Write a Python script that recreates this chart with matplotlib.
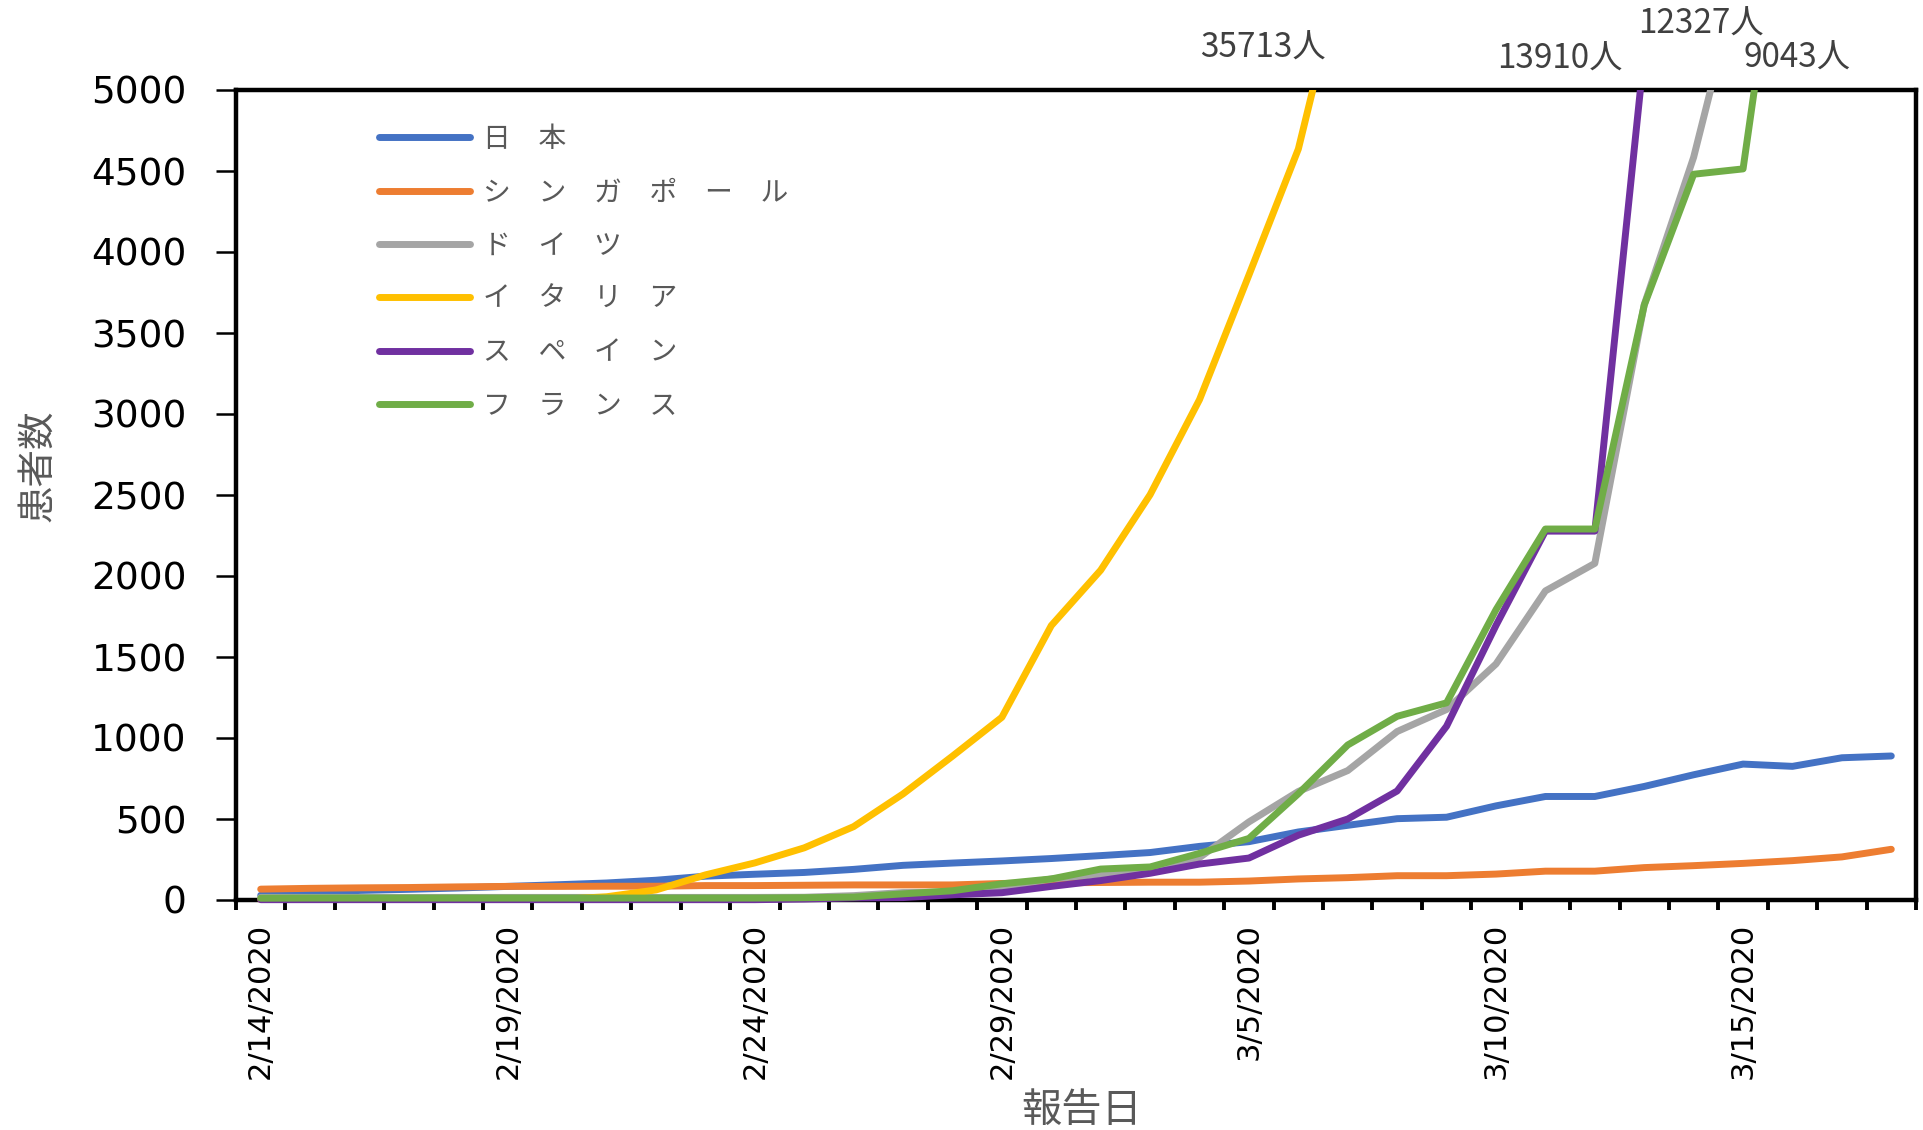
import matplotlib
matplotlib.use("Agg")
import matplotlib.pyplot as plt
from matplotlib.patches import Rectangle
import numpy as np
import pandas as pd

# Cumulative confirmed cases by report date
dates = pd.date_range("2020-02-14", "2020-03-18", freq="D")
date_labels = [f"{d.month}/{d.day}/{d.year}" for d in dates]

japan = [29, 43, 59, 66, 74, 84, 94,
         105, 122, 147, 159, 170, 189, 214, 228, 241,
         256, 274, 293, 331, 360, 420, 461, 502, 511, 581,
         639, 639, 701, 773, 839, 825, 878, 889]
singapore = [67, 72, 75, 77, 81, 84, 84,
             85, 85, 89, 89, 91, 93, 93, 93, 102,
             106, 108, 110, 110, 117, 130, 138, 150, 150, 160,
             178, 178, 200, 212, 226, 243, 266, 313]
germany = [16, 16, 16, 16, 16, 16, 16,
           16, 16, 16, 16, 17, 27, 46, 48, 79,
           130, 159, 196, 262, 482, 670, 799, 1040, 1176, 1457,
           1908, 2078, 3675, 4585, 5795, 7272, 9257, 12327]
italy = [3, 3, 3, 3, 3, 3, 3,
         20, 62, 155, 229, 322, 453, 655, 888, 1128,
         1694, 2036, 2502, 3089, 3858, 4636, 5883, 7375, 9172, 10149,
         12462, 12462, 17660, 21157, 24747, 27980, 31506, 35713]
spain = [2, 2, 2, 2, 2, 2, 2,
         2, 2, 2, 2, 6, 13, 15, 32, 45,
         84, 120, 165, 222, 259, 400, 500, 673, 1073, 1695,
         2277, 2277, 5232, 6391, 7798, 9942, 11748, 13910]
france = [11, 12, 12, 12, 12, 12, 12,
          12, 12, 12, 12, 14, 18, 38, 57, 100,
          130, 191, 204, 288, 380, 656, 957, 1134, 1217, 1792,
          2290, 2290, 3672, 4480, 4513, 6650, 7652, 9043]

names = ["日本", "シンガポール", "ドイツ", "イタリア", "スペイン", "フランス"]
series = [japan, singapore, germany, italy, spain, france]
colors = ["#4472C4", "#ED7D31", "#A5A5A5", "#FFC000", "#7030A0", "#70AD47"]

y_ticks = list(range(0, 5001, 500))
y_max = 5000
label_every = 5

CJK = ["Noto Sans CJK JP", "DejaVu Sans"]
GRAY = "#595959"

W, H = 1923, 1130
fig = plt.figure(figsize=(W / 100, H / 100), dpi=100)
fig.patch.set_facecolor("white")
ax = fig.add_axes([236 / W, 230 / H, 1680 / W, 810 / H])

x = np.arange(len(dates))
clip = Rectangle((0, -0.02), 1, 1.02, transform=ax.transAxes)

for name, vals, col in zip(names, series, colors):
    (ln,) = ax.plot(x, vals, color=col, lw=5.0, solid_capstyle="round",
                    solid_joinstyle="round", label="\u3000".join(name), zorder=3)
    ln.set_clip_path(clip)

ax.set_xlim(-0.5, len(dates) - 0.5)
ax.set_ylim(0, y_max)

# y axis
ax.set_yticks(y_ticks)
ax.set_yticklabels([str(v) for v in y_ticks], fontsize=27, family="DejaVu Sans")
ax.tick_params(axis="y", direction="out", length=14.4, width=1.8, pad=21, color="black")

# x axis: labels every five days, tick marks between categories
major = x[::label_every]
ax.set_xticks(major)
ax.set_xticklabels([date_labels[i] for i in major], rotation=90, fontsize=22,
                   family="DejaVu Sans", va="top", ha="center")
ax.set_xticks(np.arange(-0.5, len(dates)), minor=True)
ax.tick_params(axis="x", which="major", length=0, pad=16.5)
ax.tick_params(axis="x", which="minor", direction="out", length=7.2, width=2.8, color="black")

for sp in ax.spines.values():
    sp.set_linewidth(3.2)
    sp.set_color("black")

ax.set_ylabel("患者数", family=CJK, fontsize=27, color=GRAY)
ax.yaxis.label.set(va="center", ha="center", rotation_mode="default")
ax.yaxis.set_label_coords((38 - 236) / 1680, (900 - 466) / 810)

ax.set_xlabel("報告日", family=CJK, fontsize=29, color=GRAY)
ax.xaxis.label.set(va="center", ha="center")
ax.xaxis.set_label_coords((1082 - 236) / 1680, (900 - 1110) / 810)

leg = ax.legend(loc="upper left", bbox_to_anchor=((379 - 236) / 1680, (900 - 124) / 810),
                frameon=False, prop={"family": CJK, "size": 20},
                handlelength=3.27, handletextpad=0.47, labelspacing=0.84,
                borderpad=0, borderaxespad=0)
for t in leg.get_texts():
    t.set_color(GRAY)

# final totals for series that run off the top of the chart
label_offsets = {"イタリア": (-50, 42), "スペイン": (-80, 31), "ドイツ": (-10, 66), "フランス": (43, 32)}
for name, vals in zip(names, series):
    if name not in label_offsets:
        continue
    v = np.asarray(vals, dtype=float)
    k = int(np.argmax(v > y_max))
    xc = (k - 1) + (y_max - v[k - 1]) / (v[k] - v[k - 1])
    dx, dy = label_offsets[name]
    ax.annotate(f"{vals[-1]}人", xy=(xc, 1), xycoords=("data", "axes fraction"),
                xytext=(dx, dy), textcoords="offset pixels", ha="center", va="center",
                family=CJK, fontsize=24, color="#404040", annotation_clip=False)

fig.savefig("out.png", dpi=100)
